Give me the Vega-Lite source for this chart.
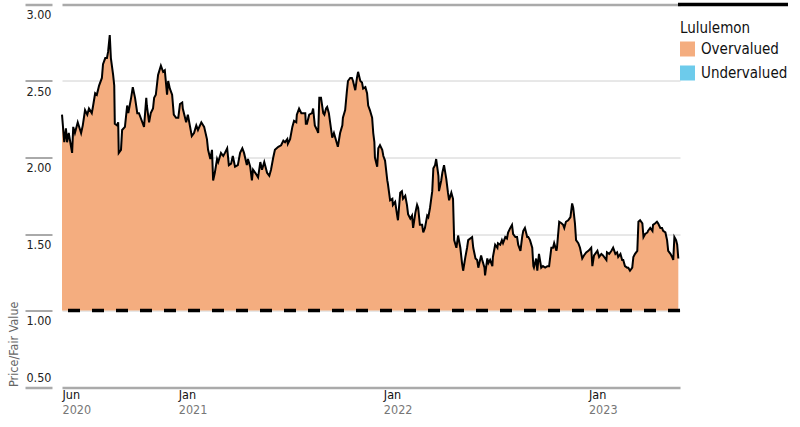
{
  "$schema": "https://vega.github.io/schema/vega-lite/v6.json",
  "width": 618,
  "height": 382.5,
  "autosize": {"type": "none"},
  "padding": {"left": 62, "top": 4.5, "right": 120, "bottom": 40},
  "config": {
    "font": "DejaVu Sans Condensed, Liberation Sans Narrow, sans-serif",
    "view": {"stroke": null}
  },
  "data": {"values": [
    {"d":"2020-06-08","v":2.28},{"d":"2020-06-12","v":2.10},{"d":"2020-06-15","v":2.19},{"d":"2020-06-17","v":2.10},{"d":"2020-06-20","v":2.16},{"d":"2020-06-26","v":2.03},{"d":"2020-06-28","v":2.20},
    {"d":"2020-07-01","v":2.16},{"d":"2020-07-06","v":2.23},{"d":"2020-07-12","v":2.16},{"d":"2020-07-15","v":2.21},{"d":"2020-07-19","v":2.31},{"d":"2020-07-23","v":2.28},{"d":"2020-07-26","v":2.32},{"d":"2020-07-31","v":2.29},
    {"d":"2020-08-02","v":2.33},{"d":"2020-08-06","v":2.42},{"d":"2020-08-09","v":2.41},{"d":"2020-08-13","v":2.47},{"d":"2020-08-18","v":2.52},{"d":"2020-08-20","v":2.61},{"d":"2020-08-24","v":2.65},{"d":"2020-08-27","v":2.65},{"d":"2020-08-29","v":2.69},
    {"d":"2020-09-01","v":2.80},{"d":"2020-09-03","v":2.65},{"d":"2020-09-07","v":2.54},{"d":"2020-09-09","v":2.47},{"d":"2020-09-10","v":2.22},{"d":"2020-09-14","v":2.21},{"d":"2020-09-16","v":2.23},{"d":"2020-09-17","v":2.03},{"d":"2020-09-21","v":2.05},{"d":"2020-09-23","v":2.18},{"d":"2020-09-28","v":2.20},
    {"d":"2020-10-02","v":2.34},{"d":"2020-10-04","v":2.29},{"d":"2020-10-09","v":2.39},{"d":"2020-10-12","v":2.46},{"d":"2020-10-16","v":2.39},{"d":"2020-10-20","v":2.29},{"d":"2020-10-23","v":2.29},{"d":"2020-10-28","v":2.24},
    {"d":"2020-11-01","v":2.20},{"d":"2020-11-05","v":2.39},{"d":"2020-11-06","v":2.34},{"d":"2020-11-10","v":2.23},{"d":"2020-11-13","v":2.29},{"d":"2020-11-17","v":2.32},{"d":"2020-11-19","v":2.39},{"d":"2020-11-22","v":2.41},{"d":"2020-11-26","v":2.54},
    {"d":"2020-12-01","v":2.60},{"d":"2020-12-05","v":2.56},{"d":"2020-12-08","v":2.57},{"d":"2020-12-12","v":2.41},{"d":"2020-12-14","v":2.50},{"d":"2020-12-17","v":2.45},{"d":"2020-12-21","v":2.41},{"d":"2020-12-24","v":2.28},{"d":"2020-12-28","v":2.26},
    {"d":"2021-01-01","v":2.26},{"d":"2021-01-04","v":2.35},{"d":"2021-01-08","v":2.36},{"d":"2021-01-09","v":2.32},{"d":"2021-01-15","v":2.23},{"d":"2021-01-18","v":2.28},{"d":"2021-01-22","v":2.20},{"d":"2021-01-25","v":2.14},{"d":"2021-01-29","v":2.16},
    {"d":"2021-02-02","v":2.21},{"d":"2021-02-05","v":2.18},{"d":"2021-02-11","v":2.23},{"d":"2021-02-16","v":2.20},{"d":"2021-02-21","v":2.12},{"d":"2021-02-23","v":2.05},{"d":"2021-02-27","v":1.99},
    {"d":"2021-03-02","v":2.05},{"d":"2021-03-04","v":1.85},{"d":"2021-03-07","v":1.90},{"d":"2021-03-11","v":1.99},{"d":"2021-03-13","v":1.97},{"d":"2021-03-18","v":2.03},{"d":"2021-03-22","v":2.01},{"d":"2021-03-25","v":2.03},{"d":"2021-03-29","v":2.06},
    {"d":"2021-04-01","v":1.95},{"d":"2021-04-05","v":1.96},{"d":"2021-04-08","v":2.01},{"d":"2021-04-12","v":1.94},{"d":"2021-04-17","v":1.95},{"d":"2021-04-21","v":2.03},{"d":"2021-04-25","v":2.06},{"d":"2021-04-28","v":2.03},
    {"d":"2021-05-03","v":1.95},{"d":"2021-05-05","v":1.99},{"d":"2021-05-09","v":1.94},{"d":"2021-05-12","v":1.85},{"d":"2021-05-14","v":1.92},{"d":"2021-05-18","v":1.90},{"d":"2021-05-23","v":1.87},{"d":"2021-05-27","v":1.97},{"d":"2021-05-30","v":1.92},
    {"d":"2021-06-03","v":1.97},{"d":"2021-06-08","v":1.90},{"d":"2021-06-12","v":1.88},{"d":"2021-06-15","v":1.92},{"d":"2021-06-19","v":2.00},{"d":"2021-06-22","v":2.05},{"d":"2021-06-28","v":2.07},
    {"d":"2021-07-03","v":2.08},{"d":"2021-07-07","v":2.11},{"d":"2021-07-10","v":2.10},{"d":"2021-07-14","v":2.12},{"d":"2021-07-15","v":2.09},{"d":"2021-07-19","v":2.12},{"d":"2021-07-23","v":2.20},{"d":"2021-07-26","v":2.24},{"d":"2021-07-30","v":2.23},{"d":"2021-07-31","v":2.28},
    {"d":"2021-08-04","v":2.32},{"d":"2021-08-08","v":2.29},{"d":"2021-08-11","v":2.29},{"d":"2021-08-15","v":2.29},{"d":"2021-08-16","v":2.22},{"d":"2021-08-18","v":2.22},{"d":"2021-08-22","v":2.28},{"d":"2021-08-27","v":2.29},{"d":"2021-08-29","v":2.32},
    {"d":"2021-09-01","v":2.21},{"d":"2021-09-05","v":2.18},{"d":"2021-09-07","v":2.16},{"d":"2021-09-09","v":2.39},{"d":"2021-09-12","v":2.39},{"d":"2021-09-16","v":2.29},{"d":"2021-09-18","v":2.28},{"d":"2021-09-21","v":2.32},{"d":"2021-09-23","v":2.33},{"d":"2021-09-26","v":2.29},
    {"d":"2021-10-02","v":2.13},{"d":"2021-10-05","v":2.16},{"d":"2021-10-09","v":2.11},{"d":"2021-10-12","v":2.07},{"d":"2021-10-16","v":2.16},{"d":"2021-10-20","v":2.21},{"d":"2021-10-21","v":2.26},{"d":"2021-10-25","v":2.31},{"d":"2021-10-28","v":2.43},{"d":"2021-10-30","v":2.50},
    {"d":"2021-11-03","v":2.52},{"d":"2021-11-06","v":2.52},{"d":"2021-11-08","v":2.50},{"d":"2021-11-12","v":2.44},{"d":"2021-11-15","v":2.52},{"d":"2021-11-17","v":2.56},{"d":"2021-11-21","v":2.50},{"d":"2021-11-24","v":2.49},{"d":"2021-11-26","v":2.45},{"d":"2021-11-30","v":2.46},
    {"d":"2021-12-03","v":2.42},{"d":"2021-12-05","v":2.34},{"d":"2021-12-08","v":2.31},{"d":"2021-12-12","v":2.26},{"d":"2021-12-14","v":2.16},{"d":"2021-12-16","v":2.10},{"d":"2021-12-17","v":2.00},{"d":"2021-12-21","v":1.94},{"d":"2021-12-23","v":2.06},{"d":"2021-12-26","v":2.08},{"d":"2021-12-30","v":2.05},
    {"d":"2022-01-01","v":2.01},{"d":"2022-01-04","v":1.98},{"d":"2022-01-08","v":1.85},{"d":"2022-01-09","v":1.83},{"d":"2022-01-13","v":1.72},{"d":"2022-01-17","v":1.73},{"d":"2022-01-18","v":1.69},{"d":"2022-01-22","v":1.71},{"d":"2022-01-26","v":1.61},{"d":"2022-01-27","v":1.59},{"d":"2022-01-31","v":1.77},
    {"d":"2022-02-03","v":1.78},{"d":"2022-02-05","v":1.73},{"d":"2022-02-09","v":1.75},{"d":"2022-02-12","v":1.69},{"d":"2022-02-14","v":1.63},{"d":"2022-02-18","v":1.60},{"d":"2022-02-21","v":1.62},{"d":"2022-02-23","v":1.54},{"d":"2022-02-27","v":1.64},
    {"d":"2022-03-02","v":1.69},{"d":"2022-03-04","v":1.67},{"d":"2022-03-07","v":1.56},{"d":"2022-03-11","v":1.56},{"d":"2022-03-13","v":1.51},{"d":"2022-03-16","v":1.54},{"d":"2022-03-20","v":1.62},{"d":"2022-03-22","v":1.61},{"d":"2022-03-25","v":1.67},{"d":"2022-03-29","v":1.78},{"d":"2022-03-31","v":1.93},
    {"d":"2022-04-03","v":1.95},{"d":"2022-04-05","v":1.99},{"d":"2022-04-09","v":1.88},{"d":"2022-04-10","v":1.78},{"d":"2022-04-14","v":1.85},{"d":"2022-04-16","v":1.90},{"d":"2022-04-19","v":1.95},{"d":"2022-04-23","v":1.86},{"d":"2022-04-26","v":1.77},{"d":"2022-04-28","v":1.72},
    {"d":"2022-05-02","v":1.77},{"d":"2022-05-05","v":1.73},{"d":"2022-05-07","v":1.46},{"d":"2022-05-11","v":1.41},{"d":"2022-05-14","v":1.49},{"d":"2022-05-18","v":1.41},{"d":"2022-05-21","v":1.31},{"d":"2022-05-23","v":1.26},{"d":"2022-05-27","v":1.35},{"d":"2022-05-30","v":1.41},
    {"d":"2022-06-01","v":1.46},{"d":"2022-06-08","v":1.48},{"d":"2022-06-10","v":1.41},{"d":"2022-06-14","v":1.34},{"d":"2022-06-17","v":1.33},{"d":"2022-06-19","v":1.28},{"d":"2022-06-24","v":1.36},{"d":"2022-06-26","v":1.33},{"d":"2022-06-30","v":1.28},
    {"d":"2022-07-01","v":1.23},{"d":"2022-07-05","v":1.34},{"d":"2022-07-07","v":1.31},{"d":"2022-07-10","v":1.33},{"d":"2022-07-14","v":1.29},{"d":"2022-07-15","v":1.35},{"d":"2022-07-19","v":1.43},{"d":"2022-07-23","v":1.41},{"d":"2022-07-24","v":1.44},{"d":"2022-07-28","v":1.43},{"d":"2022-07-31","v":1.46},
    {"d":"2022-08-02","v":1.44},{"d":"2022-08-06","v":1.48},{"d":"2022-08-09","v":1.47},{"d":"2022-08-11","v":1.51},{"d":"2022-08-15","v":1.54},{"d":"2022-08-18","v":1.56},{"d":"2022-08-20","v":1.50},{"d":"2022-08-24","v":1.48},{"d":"2022-08-27","v":1.48},{"d":"2022-08-29","v":1.43},
    {"d":"2022-09-02","v":1.39},{"d":"2022-09-05","v":1.48},{"d":"2022-09-07","v":1.52},{"d":"2022-09-10","v":1.54},{"d":"2022-09-14","v":1.48},{"d":"2022-09-16","v":1.48},{"d":"2022-09-19","v":1.46},{"d":"2022-09-23","v":1.41},{"d":"2022-09-25","v":1.29},{"d":"2022-09-26","v":1.28},{"d":"2022-09-30","v":1.34},
    {"d":"2022-10-02","v":1.26},{"d":"2022-10-05","v":1.37},{"d":"2022-10-09","v":1.28},{"d":"2022-10-12","v":1.29},{"d":"2022-10-16","v":1.28},{"d":"2022-10-20","v":1.29},{"d":"2022-10-23","v":1.29},{"d":"2022-10-27","v":1.41},{"d":"2022-10-30","v":1.41},
    {"d":"2022-11-01","v":1.44},{"d":"2022-11-05","v":1.39},{"d":"2022-11-06","v":1.41},{"d":"2022-11-10","v":1.58},{"d":"2022-11-14","v":1.57},{"d":"2022-11-17","v":1.56},{"d":"2022-11-19","v":1.54},{"d":"2022-11-22","v":1.58},{"d":"2022-11-26","v":1.59},{"d":"2022-11-30","v":1.61},
    {"d":"2022-12-03","v":1.70},{"d":"2022-12-05","v":1.67},{"d":"2022-12-08","v":1.57},{"d":"2022-12-10","v":1.46},{"d":"2022-12-14","v":1.44},{"d":"2022-12-17","v":1.41},{"d":"2022-12-21","v":1.34},{"d":"2022-12-24","v":1.36},{"d":"2022-12-28","v":1.38},
    {"d":"2023-01-01","v":1.39},{"d":"2023-01-06","v":1.41},{"d":"2023-01-08","v":1.29},{"d":"2023-01-11","v":1.36},{"d":"2023-01-17","v":1.39},{"d":"2023-01-20","v":1.35},{"d":"2023-01-24","v":1.37},{"d":"2023-01-27","v":1.36},
    {"d":"2023-02-02","v":1.33},{"d":"2023-02-03","v":1.38},{"d":"2023-02-07","v":1.37},{"d":"2023-02-11","v":1.39},{"d":"2023-02-14","v":1.41},{"d":"2023-02-18","v":1.37},{"d":"2023-02-21","v":1.38},{"d":"2023-02-23","v":1.35},{"d":"2023-02-27","v":1.37},
    {"d":"2023-03-02","v":1.33},{"d":"2023-03-04","v":1.33},{"d":"2023-03-07","v":1.29},{"d":"2023-03-11","v":1.28},{"d":"2023-03-13","v":1.28},{"d":"2023-03-16","v":1.26},{"d":"2023-03-20","v":1.28},{"d":"2023-03-22","v":1.35},{"d":"2023-03-25","v":1.37},{"d":"2023-03-29","v":1.39},{"d":"2023-03-31","v":1.58},
    {"d":"2023-04-03","v":1.59},{"d":"2023-04-07","v":1.57},{"d":"2023-04-09","v":1.48},{"d":"2023-04-12","v":1.50},{"d":"2023-04-16","v":1.51},{"d":"2023-04-17","v":1.52},{"d":"2023-04-21","v":1.54},{"d":"2023-04-25","v":1.52},{"d":"2023-04-26","v":1.56},{"d":"2023-04-30","v":1.57},
    {"d":"2023-05-03","v":1.58},{"d":"2023-05-05","v":1.57},{"d":"2023-05-09","v":1.54},{"d":"2023-05-12","v":1.54},{"d":"2023-05-14","v":1.52},{"d":"2023-05-18","v":1.51},{"d":"2023-05-21","v":1.46},{"d":"2023-05-23","v":1.39},{"d":"2023-05-27","v":1.37},{"d":"2023-05-30","v":1.35},
    {"d":"2023-06-01","v":1.33},{"d":"2023-06-03","v":1.48},{"d":"2023-06-06","v":1.46},{"d":"2023-06-08","v":1.43},{"d":"2023-06-10","v":1.34}
  ]},
  "layer": [
    {
      "mark": {"type": "area", "opacity": 1},
      "encoding": {
        "x": {
          "field": "d", "type": "temporal",
          "scale": {"type": "utc", "domain": [{"year": 2020, "month": 6, "date": 8, "utc": true}, {"year": 2023, "month": 6, "date": 13, "utc": true}]},
          "axis": {
            "orient": "bottom",
            "title": null,
            "values": [{"year": 2020, "month": 6, "date": 8, "utc": true}, {"year": 2021, "month": 1, "date": 1, "utc": true}, {"year": 2022, "month": 1, "date": 1, "utc": true}, {"year": 2023, "month": 1, "date": 1, "utc": true}],
            "labelExpr": "utcFormat(datum.value, '%b')",
            "domain": false, "ticks": false, "grid": false,
            "labelAlign": "left", "labelBaseline": "top", "labelPadding": 1,
            "labelFontSize": 12.5, "labelColor": "#111111", "labelOverlap": false, "labelFlush": false
          }
        },
        "y": {
          "field": "v", "type": "quantitative",
          "scale": {"domain": [0.5, 3], "nice": false, "zero": false},
          "axis": {
            "title": "Price/Fair Value",
            "values": [0.5, 1, 1.5, 2, 2.5, 3],
            "format": ".2f",
            "domain": false,
            "offset": 10,
            "tickSize": 27,
            "tickColor": {"condition": {"test": "datum.value <= 0.5 || datum.value >= 3", "value": "#aaaaaa"}, "value": "#555555"},
            "tickWidth": {"condition": {"test": "datum.value <= 0.5 || datum.value >= 3", "value": 2.5}, "value": 1},
            "grid": true,
            "gridColor": {"condition": {"test": "datum.value <= 0.5 || datum.value >= 3", "value": "#aaaaaa"}, "value": "#d0d0d0"},
            "gridWidth": {"condition": {"test": "datum.value <= 0.5 || datum.value >= 3", "value": 2.5}, "value": 1},
            "labelAlign": "right",
            "labelPadding": -26,
            "labelBaseline": {"condition": {"test": "datum.value <= 0.5", "value": "alphabetic"}, "value": "top"},
            "labelOffset": {"condition": {"test": "datum.value <= 0.5", "value": -6}, "value": 4},
            "labelFontSize": 12.5, "labelColor": "#222222",
            "titleColor": "#666666", "titleFontSize": 12.5, "titleFontWeight": "normal",
            "titleAngle": -90, "titleAlign": "left", "titleBaseline": "bottom",
            "titleX": -32, "titleY": 382
          }
        },
        "y2": {"datum": 1},
        "color": {
          "datum": "Overvalued",
          "scale": {"domain": ["Overvalued", "Undervalued"], "range": ["#F4AD7F", "#6DCBEB"]},
          "legend": {
            "orient": "none", "legendX": 616, "legendY": 0,
            "title": ["", "Lululemon"], "titleLineHeight": 14,
            "titleFontSize": 15, "titleFontWeight": "normal", "titleColor": "#111111", "titlePadding": 6,
            "labelFontSize": 15, "labelColor": "#111111", "labelOffset": 6,
            "symbolType": "square", "symbolSize": 225, "symbolStrokeWidth": 0, "symbolOpacity": 1,
            "rowPadding": 8, "padding": 2,
            "encode": {"legend": {"update": {"stroke": {"value": "black"}, "strokeWidth": {"value": 3.5}, "strokeDash": {"value": [110, 3000]}}}}
          }
        }
      }
    },
    {
      "mark": {"type": "line", "color": "black", "strokeWidth": 2},
      "encoding": {
        "x": {
          "field": "d", "type": "temporal",
          "axis": {
            "orient": "bottom",
            "title": null,
            "values": [{"year": 2020, "month": 6, "date": 8, "utc": true}, {"year": 2021, "month": 1, "date": 1, "utc": true}, {"year": 2022, "month": 1, "date": 1, "utc": true}, {"year": 2023, "month": 1, "date": 1, "utc": true}],
            "labelExpr": "utcFormat(datum.value, '%Y')",
            "domain": false, "ticks": false, "grid": false,
            "labelAlign": "left", "labelBaseline": "top", "labelPadding": 16,
            "labelFontSize": 12.5, "labelColor": "#777777", "labelOverlap": false, "labelFlush": false
          }
        },
        "y": {"field": "v", "type": "quantitative"}
      }
    },
    {
      "data": {"values": [{}]},
      "mark": {"type": "rule", "color": "black", "strokeWidth": 3.5, "strokeDash": [12, 12]},
      "encoding": {"y": {"datum": 1}}
    }
  ],
  "resolve": {"axis": {"x": "independent"}}
}
